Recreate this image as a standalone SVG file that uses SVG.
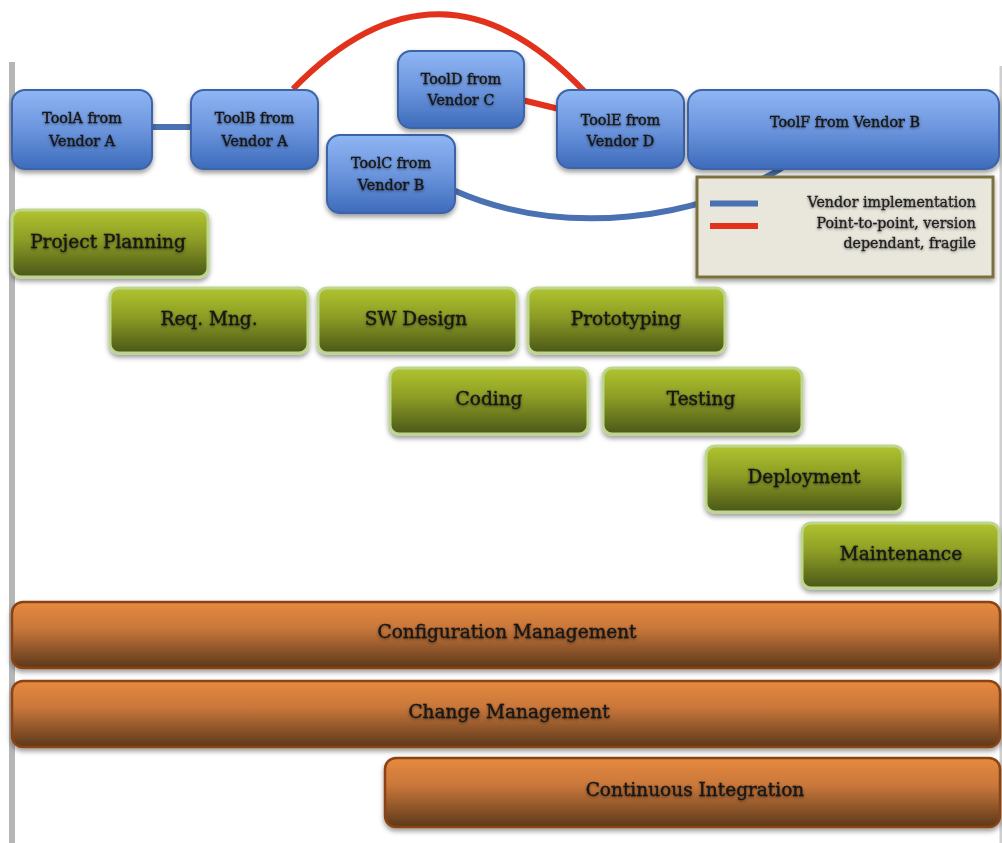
<svg xmlns="http://www.w3.org/2000/svg" width="1002" height="843" viewBox="0 0 1002 843">
  <defs>
    <linearGradient id="gBlue" x1="0" y1="0" x2="0" y2="1">
      <stop offset="0" stop-color="#8fb6f4"/>
      <stop offset="0.5" stop-color="#6b95dd"/>
      <stop offset="1" stop-color="#3d6bbb"/>
    </linearGradient>
    <linearGradient id="gGreen" x1="0" y1="0" x2="0" y2="1">
      <stop offset="0" stop-color="#b1c42f"/>
      <stop offset="0.45" stop-color="#8c9c25"/>
      <stop offset="1" stop-color="#4a5718"/>
    </linearGradient>
    <linearGradient id="gOrange" x1="0" y1="0" x2="0" y2="1">
      <stop offset="0" stop-color="#e68a3f"/>
      <stop offset="0.4" stop-color="#c9773a"/>
      <stop offset="1" stop-color="#5b381b"/>
    </linearGradient>
    <filter id="boxShadow" x="-5%" y="-10%" width="110%" height="130%">
      <feDropShadow dx="0" dy="3" stdDeviation="2.5" flood-color="#000" flood-opacity="0.4"/>
    </filter>
    <filter id="textGlow" x="-10%" y="-30%" width="120%" height="160%">
      <feGaussianBlur in="SourceAlpha" stdDeviation="1.6" result="b"/>
      <feOffset in="b" dy="1" result="o"/>
      <feComponentTransfer in="o" result="s">
        <feFuncA type="linear" slope="0.5"/>
      </feComponentTransfer>
      <feMerge>
        <feMergeNode in="s"/>
        <feMergeNode in="SourceGraphic"/>
      </feMerge>
    </filter>
    <style>
      .tool { fill: url(#gBlue); stroke: #3c64a8; stroke-width: 2; filter: url(#boxShadow); }
      .phase { fill: url(#gGreen); stroke: #bdd58c; stroke-width: 3; filter: url(#boxShadow); }
      .bar { fill: url(#gOrange); stroke: #8a4312; stroke-width: 2.5; filter: url(#boxShadow); }
      .t { font-family: "DejaVu Serif", "Liberation Serif", serif; fill: #161616; stroke: #161616; stroke-width: 0.35; text-anchor: middle; filter: url(#textGlow); }
      .ts { font-size: 14.3px; }
      .tl { font-size: 18.5px; }
      .lg { font-family: "DejaVu Serif", "Liberation Serif", serif; font-size: 14.2px; fill: #1e1e1e; stroke: #1e1e1e; stroke-width: 0.3; text-anchor: end; filter: url(#textGlow); }
      .vendor { fill: none; stroke: #4a72b2; stroke-width: 6; stroke-linecap: butt; }
      .p2p { fill: none; stroke: #e2321b; stroke-width: 6; stroke-linecap: butt; }
    </style>
  </defs>

  <rect width="1002" height="843" fill="#ffffff"/>

  <!-- page frame rules -->
  <rect x="9" y="62" width="6" height="781" fill="#b6b6b6"/>
  <rect x="999.5" y="66" width="2.5" height="777" fill="#cfcfcf"/>

  <!-- connectors -->
  <g id="connectors">
    <line class="vendor" x1="150" y1="127" x2="193" y2="127"/>
    <path class="p2p" d="M293,89 Q440,-62 585,92"/>
    <line class="p2p" x1="522" y1="100" x2="559" y2="109"/>
    <path class="vendor" d="M453,190 C565,240 700,218 782,168"/>
  </g>

  <!-- tools -->
  <g id="toolA">
    <rect class="tool" x="12" y="90" width="140" height="79" rx="13"/>
    <text class="t ts" x="82" y="123">ToolA from</text>
    <text class="t ts" x="82" y="146">Vendor A</text>
  </g>
  <g id="toolB">
    <rect class="tool" x="191" y="90" width="127" height="79" rx="13"/>
    <text class="t ts" x="254.5" y="123">ToolB from</text>
    <text class="t ts" x="254.5" y="146">Vendor A</text>
  </g>
  <g id="toolC">
    <rect class="tool" x="327" y="135" width="128" height="78" rx="13"/>
    <text class="t ts" x="391" y="168">ToolC from</text>
    <text class="t ts" x="391" y="190">Vendor B</text>
  </g>
  <g id="toolD">
    <rect class="tool" x="398" y="51" width="126" height="77" rx="13"/>
    <text class="t ts" x="461" y="84">ToolD from</text>
    <text class="t ts" x="461" y="105">Vendor C</text>
  </g>
  <g id="toolE">
    <rect class="tool" x="557" y="90" width="127" height="78" rx="13"/>
    <text class="t ts" x="620.5" y="125">ToolE from</text>
    <text class="t ts" x="620.5" y="146">Vendor D</text>
  </g>
  <g id="toolF">
    <rect class="tool" x="688" y="90" width="311" height="79" rx="14"/>
    <text class="t ts" x="845" y="127">ToolF from Vendor B</text>
  </g>

  <!-- legend -->
  <g id="legend">
    <rect x="697" y="177" width="296" height="100" fill="#e9e6dc" stroke="#7b703c" stroke-width="3" filter="url(#boxShadow)"/>
    <line class="vendor" x1="710" y1="203.5" x2="758" y2="203.5"/>
    <line class="p2p" x1="710" y1="226" x2="758" y2="226"/>
    <text class="lg" x="976" y="207">Vendor implementation</text>
    <text class="lg" x="976" y="228">Point-to-point, version</text>
    <text class="lg" x="976" y="248">dependant, fragile</text>
  </g>

  <!-- lifecycle phases -->
  <g id="projectPlanning">
    <rect class="phase" x="12" y="210" width="196" height="67" rx="9"/>
    <text class="t tl" x="108" y="248">Project Planning</text>
  </g>
  <g id="reqMng">
    <rect class="phase" x="110" y="288" width="198" height="65" rx="9"/>
    <text class="t tl" x="209" y="325">Req. Mng.</text>
  </g>
  <g id="swDesign">
    <rect class="phase" x="318" y="288" width="199" height="65" rx="9"/>
    <text class="t tl" x="416" y="325">SW Design</text>
  </g>
  <g id="prototyping">
    <rect class="phase" x="528" y="288" width="197" height="65" rx="9"/>
    <text class="t tl" x="626" y="325">Prototyping</text>
  </g>
  <g id="coding">
    <rect class="phase" x="390" y="368" width="198" height="66" rx="9"/>
    <text class="t tl" x="489" y="405">Coding</text>
  </g>
  <g id="testing">
    <rect class="phase" x="603" y="368" width="199" height="66" rx="9"/>
    <text class="t tl" x="701" y="405">Testing</text>
  </g>
  <g id="deployment">
    <rect class="phase" x="706" y="446" width="197" height="66" rx="9"/>
    <text class="t tl" x="804" y="483">Deployment</text>
  </g>
  <g id="maintenance">
    <rect class="phase" x="802" y="523" width="197" height="65" rx="9"/>
    <text class="t tl" x="901" y="560">Maintenance</text>
  </g>

  <!-- cross-cutting activities -->
  <g id="configurationManagement">
    <rect class="bar" x="12" y="602" width="988" height="66" rx="11"/>
    <text class="t tl" x="507" y="638">Configuration Management</text>
  </g>
  <g id="changeManagement">
    <rect class="bar" x="12" y="681" width="988" height="66" rx="11"/>
    <text class="t tl" x="509" y="718">Change Management</text>
  </g>
  <g id="continuousIntegration">
    <rect class="bar" x="385" y="758" width="615" height="69" rx="11"/>
    <text class="t tl" x="695" y="796">Continuous Integration</text>
  </g>
</svg>
